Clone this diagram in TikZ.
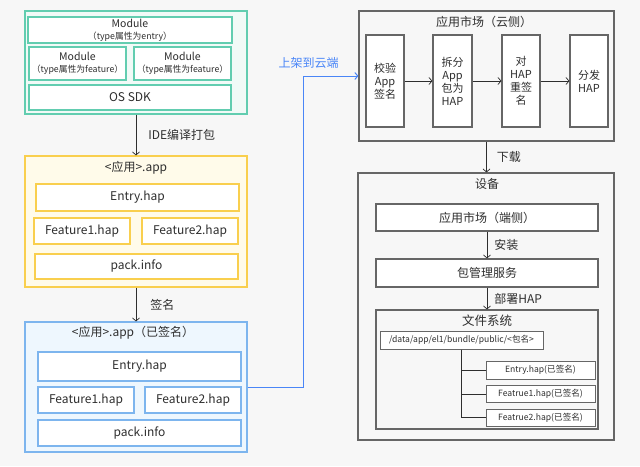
\documentclass[tikz,border=0pt]{standalone}
\usepackage{fontspec}
\setmainfont{Noto Sans CJK SC}
\usetikzlibrary{arrows.meta}

\definecolor{bgcol}{HTML}{F7F7F7}
\definecolor{txtcol}{HTML}{2E2E2E}
\definecolor{grline}{HTML}{62CDB0}
\definecolor{grfill}{HTML}{F1FAF7}
\definecolor{yeline}{HTML}{F9CF4E}
\definecolor{yefill}{HTML}{FFFBEA}
\definecolor{blline}{HTML}{7DB5EE}
\definecolor{blfill}{HTML}{EEF7FE}
\definecolor{gyline}{HTML}{666666}
\definecolor{uplink}{HTML}{4A86F7}

\tikzset{
  sz/.style 2 args={minimum width=#1pt, minimum height=#2pt},
  box/.style={draw, line width=1.1pt, align=center, inner sep=0pt, text=txtcol,
    font=\fontsize{12}{14}\selectfont},
  grbox/.style={box, draw=grline, fill=white},
  yebox/.style={box, draw=yeline, fill=white},
  blbox/.style={box, draw=blline, fill=white},
  gybox/.style={box, draw=gyline, fill=white},
  modbox/.style={grbox, font=\fontsize{10.5}{12}\selectfont},
  stepbox/.style={gybox, font=\fontsize{11}{13}\selectfont},
  fsbox/.style={gybox, line width=1pt, font=\fontsize{8.6}{10}\selectfont},
  title/.style={text=txtcol, inner sep=0pt, font=\fontsize{12}{14}\selectfont},
  arr/.style={draw=txtcol, line width=0.7pt, -{Straight Barb[length=3pt,width=7pt]}},
}
\newcommand{\modsub}[1]{{\fontsize{8.8}{9}\selectfont #1}}

\begin{document}
\begin{tikzpicture}[x=1pt, y=-1pt]
  \useasboundingbox[fill=bgcol] (0,0) rectangle (640,466);

  % source modules
  \node[box, draw=grline, fill=grfill, sz={222}{103}] (src) at (136,62.5) {};
  \node[modbox, sz={204}{26}] (mentry) at (130,30) {Module\\\modsub{（type属性为entry）}};
  \node[modbox, sz={97}{33}] (mfeat1) at (77.5,63.5) {Module\\\modsub{（type属性为feature）}};
  \node[modbox, sz={97}{33}] (mfeat2) at (182.5,63.5) {Module\\\modsub{（type属性为feature）}};
  \node[grbox, sz={202}{25}] (sdk) at (130,97.5) {OS SDK};

  % unsigned app
  \node[box, draw=yeline, fill=yefill, sz={222}{131}] (app) at (136,221.5) {};
  \node[title] (apptitle) at (136,168) {<应用>.app};
  \node[yebox, sz={203}{27}] (aentry) at (137.5,197.5) {Entry.hap};
  \node[yebox, sz={96}{26}] (afeat1) at (82,231) {Feature1.hap};
  \node[yebox, sz={96}{26}] (afeat2) at (190,231) {Feature2.hap};
  \node[yebox, sz={203}{25}] (apack) at (136.5,266.5) {pack.info};

  % signed app
  \node[box, draw=blline, fill=blfill, sz={222}{130}] (sapp) at (136,387) {};
  \node[title] (sapptitle) at (133,333) {<应用>.app（已签名）};
  \node[blbox, sz={203}{29}] (sentry) at (139.5,366.5) {Entry.hap};
  \node[blbox, sz={96}{26}] (sfeat1) at (86,400) {Feature1.hap};
  \node[blbox, sz={96}{26}] (sfeat2) at (193,400) {Feature2.hap};
  \node[blbox, sz={203}{26}] (spack) at (139.5,433) {pack.info};

  \draw[arr] (src.south) -- node[right=12pt, title] {IDE编译打包} (app.north);
  \draw[arr] (app.south) -- node[right=14pt, title] {签名} (sapp.north);

  % cloud side
  \node[box, draw=gyline, fill=bgcol, sz={255}{130}] (cloud) at (486.5,76) {};
  \node[title] (cloudtitle) at (484,22) {应用市场（云侧）};
  \node[stepbox, sz={38}{92}] (check) at (385,81) {校验\\App\\签名};
  \node[stepbox, sz={39}{92}] (split) at (452.5,81) {拆分\\App\\包为\\HAP};
  \node[stepbox, sz={38}{92}] (resign) at (521,81) {对\\HAP\\重签\\名};
  \node[stepbox, sz={38}{92}] (dist) at (589,81) {分发\\HAP};
  \draw[arr] (check) -- (split);
  \draw[arr] (split) -- (resign);
  \draw[arr] (resign) -- (dist);

  \coordinate (turn) at (303,76);
  \draw[uplink, line width=1pt, -{Straight Barb[length=3pt,width=7pt]}]
    (sapp.east) -| (turn) -- (cloud.west);
  \node[text=uplink, inner sep=0pt, font=\fontsize{12}{14}\selectfont] (uptext) at (308.5,63) {上架到云端};

  % device
  \node[box, draw=gyline, fill=bgcol, sz={256}{267}] (dev) at (486,306.5) {};
  \node[title] (devtitle) at (487,184) {设备};
  \node[gybox, sz={222}{27}] (market) at (487,217.5) {应用市场（端侧）};
  \node[gybox, sz={222}{28}] (bms) at (487,273) {包管理服务};
  \node[gybox, fill=bgcol, sz={222}{119}] (fs) at (487,369.5) {};
  \node[title, font=\fontsize{12.5}{14}\selectfont] (fstitle) at (487,321) {文件系统};

  \draw[arr] (cloud.south) -- node[right=10pt, title] {下载} (cloud.south |- dev.north);
  \draw[arr] (market) -- node[right=7pt, title] {安装} (bms);
  \draw[arr] (bms) -- node[right=7pt, title] {部署HAP} (fs);

  % file system tree
  \node[fsbox, sz={163}{18}] (path) at (461.5,340) {/data/app/el1/bundle/public/<包名>};
  \node[fsbox, sz={109}{18}] (fentry) at (540.5,370) {Entry.hap(已签名)};
  \node[fsbox, sz={109}{17}] (ffeat1) at (540.5,394) {Featrue1.hap(已签名)};
  \node[fsbox, sz={109}{17}] (ffeat2) at (540.5,417.5) {Featrue2.hap(已签名)};
  \draw[draw=txtcol, line width=0.7pt] (path.south) |- (fentry.west);
  \draw[draw=txtcol, line width=0.7pt] (path.south) |- (ffeat1.west);
  \draw[draw=txtcol, line width=0.7pt] (path.south) |- (ffeat2.west);
\end{tikzpicture}
\end{document}
